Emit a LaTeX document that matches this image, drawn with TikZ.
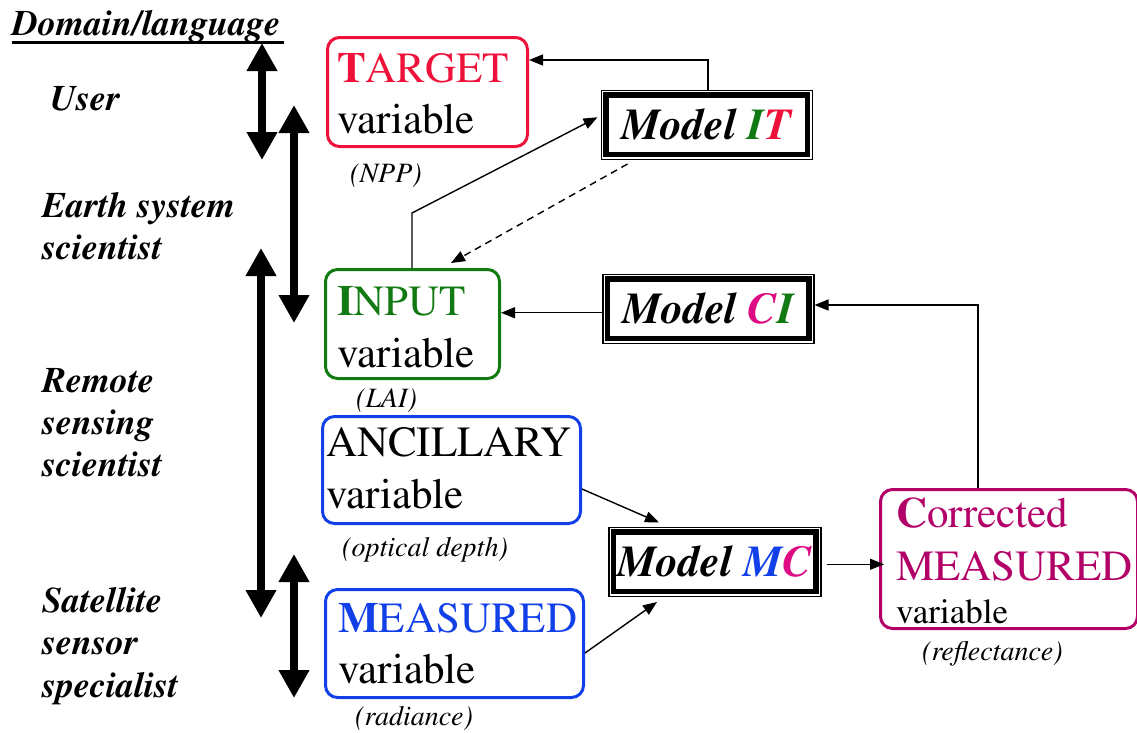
\documentclass[tikz,border=0pt]{standalone}
\usepackage[T1]{fontenc}
\renewcommand{\rmdefault}{ptm}
\usetikzlibrary{arrows.meta}
\definecolor{tred}{RGB}{238,18,58}
\definecolor{tgreen}{RGB}{18,122,18}
\definecolor{tblue}{RGB}{18,64,232}
\definecolor{tmag}{RGB}{178,0,104}
\definecolor{tpink}{RGB}{222,12,132}
\begin{document}
\begin{tikzpicture}[x=1pt,y=-1pt,
  varbox/.style={draw, line width=3pt, rounded corners=12pt, inner sep=0pt, anchor=north west},
  modelbox/.style={draw, line width=1.5pt, inner sep=0pt, anchor=north west,
    font=\fontsize{44}{50}\selectfont\bfseries\itshape},
  bigtxt/.style={inner sep=0pt, anchor=base west, font=\fontsize{43}{53}\selectfont},
  midtxt/.style={inner sep=0pt, anchor=base west, font=\fontsize{35}{42}\selectfont},
  smalltxt/.style={inner sep=0pt, anchor=base west, font=\fontsize{28}{34}\selectfont\itshape},
  role/.style={inner sep=0pt, anchor=base west, font=\fontsize{36}{42}\selectfont\bfseries\itshape},
  conn/.style={line width=1.4pt, -{Triangle[length=14pt,width=11pt]}},
  span/.style={line width=8pt, {Triangle[length=28pt,width=29pt]}-{Triangle[length=28pt,width=29pt]}}]
\useasboundingbox (0,0) rectangle (1137,732);

% ---- role labels on the left
\node[role] (dom) at (12,35) {Domain/language};
\draw[line width=2.2pt] ([yshift=-7.5pt]dom.base west) -- ([yshift=-7.5pt,xshift=4pt]dom.base east);
\node[role] (user) at (50,110) {User};
\node[role] (ess1) at (42,217) {Earth system};
\node[role] (ess2) at (42,259) {scientist};
\node[role] (rss1) at (42,392) {Remote};
\node[role] (rss2) at (42,434) {sensing};
\node[role] (rss3) at (42,476) {scientist};
\node[role] (sss1) at (42,612) {Satellite};
\node[role] (sss2) at (42,654) {sensor};
\node[role] (sss3) at (42,697) {specialist};

% ---- thick double arrows marking each role's range
\coordinate (ua) at (262,43);  \coordinate (ub) at (262,160);
\coordinate (ea) at (294,105); \coordinate (eb) at (294,323);
\coordinate (ra) at (261,248); \coordinate (rb) at (261,618);
\coordinate (sa) at (294,554); \coordinate (sb) at (294,698);
\draw[span] (ua) -- (ub);
\draw[span] (ea) -- (eb);
\draw[span] (ra) -- (rb);
\draw[span] (sa) -- (sb);

% ---- variable boxes
\node[varbox, draw=tred, minimum width=200pt, minimum height=109pt] (target) at (326,36) {};
\node[bigtxt, text=tred] (target1) at (337,82) {\textbf{T}ARGET};
\node[bigtxt] (target2) at (337,133) {variable};
\node[smalltxt] (npp) at (350,182) {(NPP)};

\node[varbox, draw=tgreen, minimum width=174pt, minimum height=109pt] (input) at (324,268) {};
\node[bigtxt, text=tgreen] (input1) at (337,315) {\textbf{I}NPUT};
\node[bigtxt] (input2) at (337,367) {variable};
\node[smalltxt] (lai) at (356,407) {(LAI)};

\node[varbox, draw=tblue, minimum width=258pt, minimum height=107pt] (anc) at (321,415) {};
\node[bigtxt] (anc1) at (326,456) {ANCILLARY};
\node[bigtxt] (anc2) at (326,508) {variable};
\node[smalltxt] (optd) at (342,556) {(optical depth)};

\node[varbox, draw=tblue, minimum width=258pt, minimum height=108pt] (meas) at (324,588) {};
\node[bigtxt, text=tblue] (meas1) at (338,632) {\textbf{M}EASURED};
\node[bigtxt] (meas2) at (338,683) {variable};
\node[smalltxt] (rad) at (355,725) {(radiance)};

\node[varbox, draw=tmag, minimum width=257pt, minimum height=139pt] (corr) at (879,488) {};
\node[bigtxt, text=tmag] (corr1) at (896,527) {\textbf{C}orrected};
\node[bigtxt, text=tmag] (corr2) at (896,580) {MEASURED};
\node[midtxt] (corr3) at (896,623) {variable};
\node[smalltxt] (refl) at (922,660) {(reflectance)};

% ---- model boxes: thin outer frame, thick inner frame
\node[modelbox, minimum width=211pt, minimum height=69pt] (mit) at (600.5,89.5) {Model \textcolor{tgreen}{I}\textcolor{tred}{T}};
\node[modelbox, minimum width=211pt, minimum height=69pt] (mci) at (602,273.5) {Model \textcolor{tpink}{C}\textcolor{tgreen}{I}};
\node[modelbox, minimum width=212pt, minimum height=69pt] (mmc) at (608,526.5) {Model \textcolor{tblue}{M}\textcolor{tpink}{C}};
\foreach \m in {mit,mci,mmc}
  \draw[line width=5.5pt] ([shift={(5.5pt,-5.5pt)}]\m.north west) rectangle ([shift={(-5.5pt,5.5pt)}]\m.south east);

% ---- connectors
\coordinate (k1) at (708,60);
\draw[conn] (mit.north -| k1) -- (k1) -- (k1 -| target.east);

\coordinate (k2) at (412,213);
\draw[conn] (input.north -| k2) -- (k2) -- ([xshift=-3pt,yshift=7.5pt]mit.west);

\draw[conn, dashed, dash pattern=on 7pt off 5pt] ([xshift=27pt,yshift=-4pt]mit.south west) -- ([xshift=127pt,yshift=5pt]input.north west);

\draw[conn] ([yshift=-4pt]mci.west) -- ([yshift=-4pt]mci.west -| input.east);

\coordinate (k5) at (978,305);
\draw[conn] (corr.north -| k5) -- (k5) -- (k5 -| mci.east);

\draw[conn] ([yshift=-19pt]anc.east) -- ([xshift=51pt,yshift=4pt]mmc.north west);
\draw[conn] ([yshift=-9.5pt]meas.east) -- ([xshift=49pt,yshift=-5pt]mmc.south west);

\draw[conn] ([xshift=5pt,yshift=-2.5pt]mmc.east) -- ([xshift=5pt,yshift=-2.5pt]mmc.east -| corr.west);
\end{tikzpicture}
\end{document}
